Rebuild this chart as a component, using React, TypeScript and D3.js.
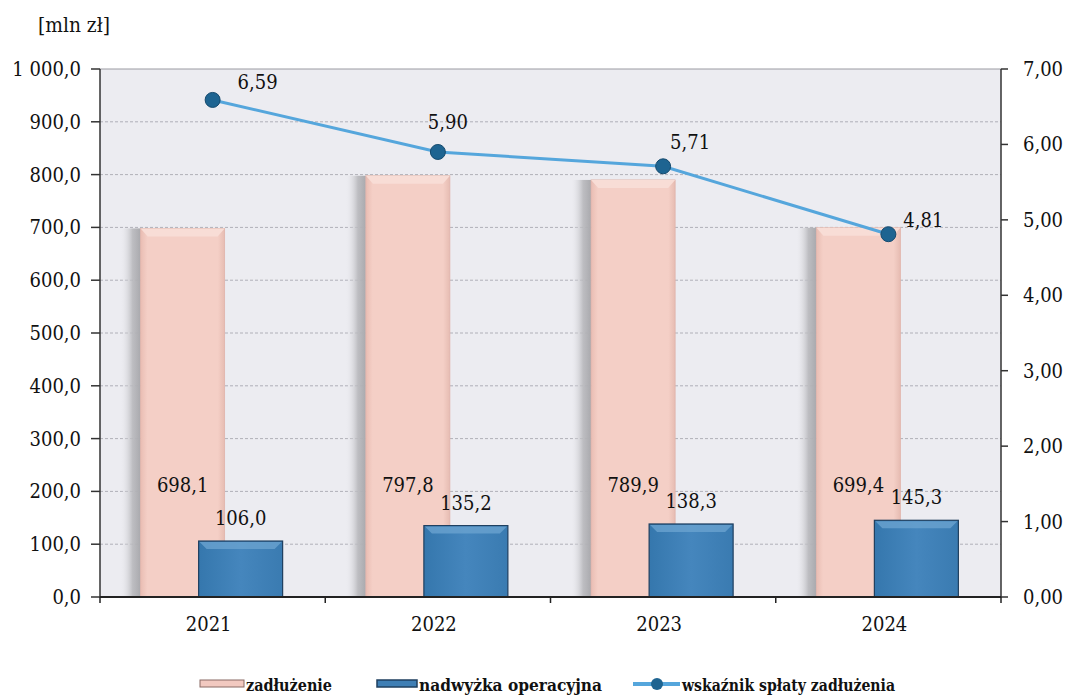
import React from "react";
import * as d3 from "d3";

const years = ["2021", "2022", "2023", "2024"];
const debt = [698.1, 797.8, 789.9, 699.4];
const surplus = [106.0, 135.2, 138.3, 145.3];
const ratio = [6.59, 5.9, 5.71, 4.81];
const leftTicks = [0, 100, 200, 300, 400, 500, 600, 700, 800, 900, 1000];
const rightTicks = [0, 1, 2, 3, 4, 5, 6, 7];
const legendLabels = ["zadłużenie", "nadwyżka operacyjna", "wskaźnik spłaty zadłużenia"];

const W = 1066, H = 697;
const m = { left: 100, right: 1001, top: 69, bottom: 597 };
const font = "'DejaVu Serif Condensed', 'DejaVu Serif', serif";

const fmt1 = (v: number) => {
  const s = v.toFixed(1).replace(".", ",");
  const [i, d] = s.split(",");
  const ii = i.length > 3 ? i.slice(0, i.length - 3) + " " + i.slice(-3) : i;
  return ii + "," + d;
};
const fmt2 = (v: number) => v.toFixed(2).replace(".", ",");

export default function App() {
  const x = d3.scaleBand<string>().domain(years).range([m.left, m.right]);
  const yL = d3.scaleLinear().domain([0, 1000]).range([m.bottom, m.top]);
  const yR = d3.scaleLinear().domain([0, 7]).range([m.bottom, m.top]);
  const bw = 84;
  const pinkOff = -72;
  const blueOff = -14;
  const line = d3
    .line<number>()
    .x((_, i) => x(years[i])! + x.bandwidth() / 2)
    .y((d) => yR(d));
  const labelPos = [
    [45, -11],
    [10, -23],
    [27, -17],
    [35, -7],
  ];
  const txt = { fontFamily: font } as React.CSSProperties;
  const fs = 20;
  return (
    <svg width={W} height={H} style={{ display: "block", position: "absolute", left: 0, top: 0, fontFamily: font }}>
      <defs>
        <linearGradient id="shadow" x1="0" x2="1" y1="0" y2="0">
          <stop offset="0" stopColor="#e8e8ec" stopOpacity="0" />
          <stop offset="0.6" stopColor="#b8b8bc" stopOpacity="0.9" />
          <stop offset="1" stopColor="#a9a9ad" stopOpacity="1" />
        </linearGradient>
        <linearGradient id="pinkG" x1="0" x2="1" y1="0" y2="0">
          <stop offset="0" stopColor="#e9bdb3" />
          <stop offset="0.08" stopColor="#f4cfc6" />
          <stop offset="0.92" stopColor="#f4cfc6" />
          <stop offset="1" stopColor="#e6bcb2" />
        </linearGradient>
        <linearGradient id="blueG" x1="0" x2="1" y1="0" y2="0">
          <stop offset="0" stopColor="#3577ad" />
          <stop offset="0.5" stopColor="#4586bd" />
          <stop offset="1" stopColor="#3a7bb1" />
        </linearGradient>
      </defs>
      <rect x={0} y={0} width={W} height={H} fill="#ffffff" />
      <rect x={m.left} y={m.top} width={m.right - m.left} height={m.bottom - m.top} fill="#ececf1" />
      {leftTicks.slice(1, -1).map((t) => (
        <line key={t} x1={m.left} x2={m.right} y1={yL(t)} y2={yL(t)} stroke="#b0b0b8" strokeWidth={1} strokeDasharray="3,2" />
      ))}
      <line x1={m.left} x2={m.right} y1={m.top} y2={m.top} stroke="#9a9aa2" strokeWidth={1} />
      {years.map((yr, i) => {
        const cx = x(yr)!;
        const px = cx + x.bandwidth() / 2 + pinkOff;
        const bx = cx + x.bandwidth() / 2 + blueOff;
        const pt = yL(debt[i]);
        const bt = yL(surplus[i]);
        return (
          <g key={yr}>
            <rect x={px - 20} y={pt} width={20} height={m.bottom - pt} fill="url(#shadow)" />
            <rect x={px} y={pt} width={bw} height={m.bottom - pt} fill="url(#pinkG)" stroke="#e0b4aa" strokeWidth={0.8} />
            <polygon points={`${px},${pt} ${px + bw},${pt} ${px + bw - 7},${pt + 8} ${px + 7},${pt + 8}`} fill="#f8ddd6" />
            <rect x={bx} y={bt} width={bw} height={m.bottom - bt} fill="url(#blueG)" stroke="#1f3f5f" strokeWidth={1.2} />
            <polygon points={`${bx + 1},${bt + 1} ${bx + bw - 1},${bt + 1} ${bx + bw - 8},${bt + 8} ${bx + 8},${bt + 8}`} fill="#6aa3d0" opacity={0.8} />
          </g>
        );
      })}
      <path d={line(ratio) || ""} fill="none" stroke="#55a6dc" strokeWidth={3} />
      {ratio.map((v, i) => (
        <circle key={i} cx={x(years[i])! + x.bandwidth() / 2} cy={yR(v)} r={7.5} fill="#1e6491" stroke="#154a6e" strokeWidth={1} />
      ))}
      <line x1={m.left} x2={m.left} y1={m.top} y2={m.bottom} stroke="#333" strokeWidth={1.5} />
      <line x1={m.right} x2={m.right} y1={m.top} y2={m.bottom} stroke="#333" strokeWidth={1.5} />
      <line x1={m.left} x2={m.right} y1={m.bottom} y2={m.bottom} stroke="#222" strokeWidth={2} />
      {leftTicks.map((t) => (
        <g key={t}>
          <line x1={m.left - 9} x2={m.left} y1={yL(t)} y2={yL(t)} stroke="#333" strokeWidth={1.5} />
          <text style={txt} x={m.left - 19} y={yL(t)} dy="0.35em" textAnchor="end" fontSize={fs} fill="#111">
            {fmt1(t)}
          </text>
        </g>
      ))}
      {rightTicks.map((t) => (
        <g key={t}>
          <line x1={m.right} x2={m.right + 7} y1={yR(t)} y2={yR(t)} stroke="#333" strokeWidth={1.5} />
          <text style={txt} x={m.right + 22} y={yR(t)} dy="0.35em" textAnchor="start" fontSize={fs} fill="#111">
            {fmt2(t)}
          </text>
        </g>
      ))}
      {years.map((yr) => (
        <g key={yr}>
          <line x1={x(yr)!} x2={x(yr)!} y1={m.bottom} y2={m.bottom + 6} stroke="#222" strokeWidth={1.5} />
          <text style={txt} x={x(yr)! + x.bandwidth() / 2 - 4} y={m.bottom + 34} textAnchor="middle" fontSize={fs} fill="#111">
            {yr}
          </text>
        </g>
      ))}
      <line x1={m.right} x2={m.right} y1={m.bottom} y2={m.bottom + 6} stroke="#222" strokeWidth={1.5} />
      {years.map((yr, i) => {
        const c = x(yr)! + x.bandwidth() / 2;
        return (
          <g key={yr} fontSize={fs} fill="#111">
            <text style={txt} x={c + pinkOff + bw / 2} y={492} textAnchor="middle">{fmt1(debt[i])}</text>
            <text style={txt} x={c + blueOff + bw / 2} y={yL(surplus[i]) - 16} textAnchor="middle">{fmt1(surplus[i])}</text>
            <text style={txt} x={c + labelPos[i][0]} y={yR(ratio[i]) + labelPos[i][1]} textAnchor="middle">{fmt2(ratio[i])}</text>
          </g>
        );
      })}
      <text style={txt} x={38} y={32} fontSize={fs} fill="#111" textLength={72} lengthAdjust="spacingAndGlyphs">[mln zł]</text>
      <g fontSize={17} fontWeight="bold" fill="#111">
        <rect x={200} y={680} width={44} height={7} fill="#f2c9c0" stroke="#8a6a64" strokeWidth={1} />
        <text style={txt} x={246} y={691} textLength={86} lengthAdjust="spacingAndGlyphs">{legendLabels[0]}</text>
        <rect x={377} y={680} width={40} height={7} fill="#3f7fb5" stroke="#1f3f5f" strokeWidth={1.5} />
        <text style={txt} x={419} y={691} textLength={183} lengthAdjust="spacingAndGlyphs">{legendLabels[1]}</text>
        <line x1={633} x2={680} y1={684} y2={684} stroke="#55a6dc" strokeWidth={4} />
        <circle cx={657} cy={684} r={6} fill="#1e6491" />
        <text style={txt} x={682} y={691} textLength={213} lengthAdjust="spacingAndGlyphs">{legendLabels[2]}</text>
      </g>
    </svg>
  );
}
